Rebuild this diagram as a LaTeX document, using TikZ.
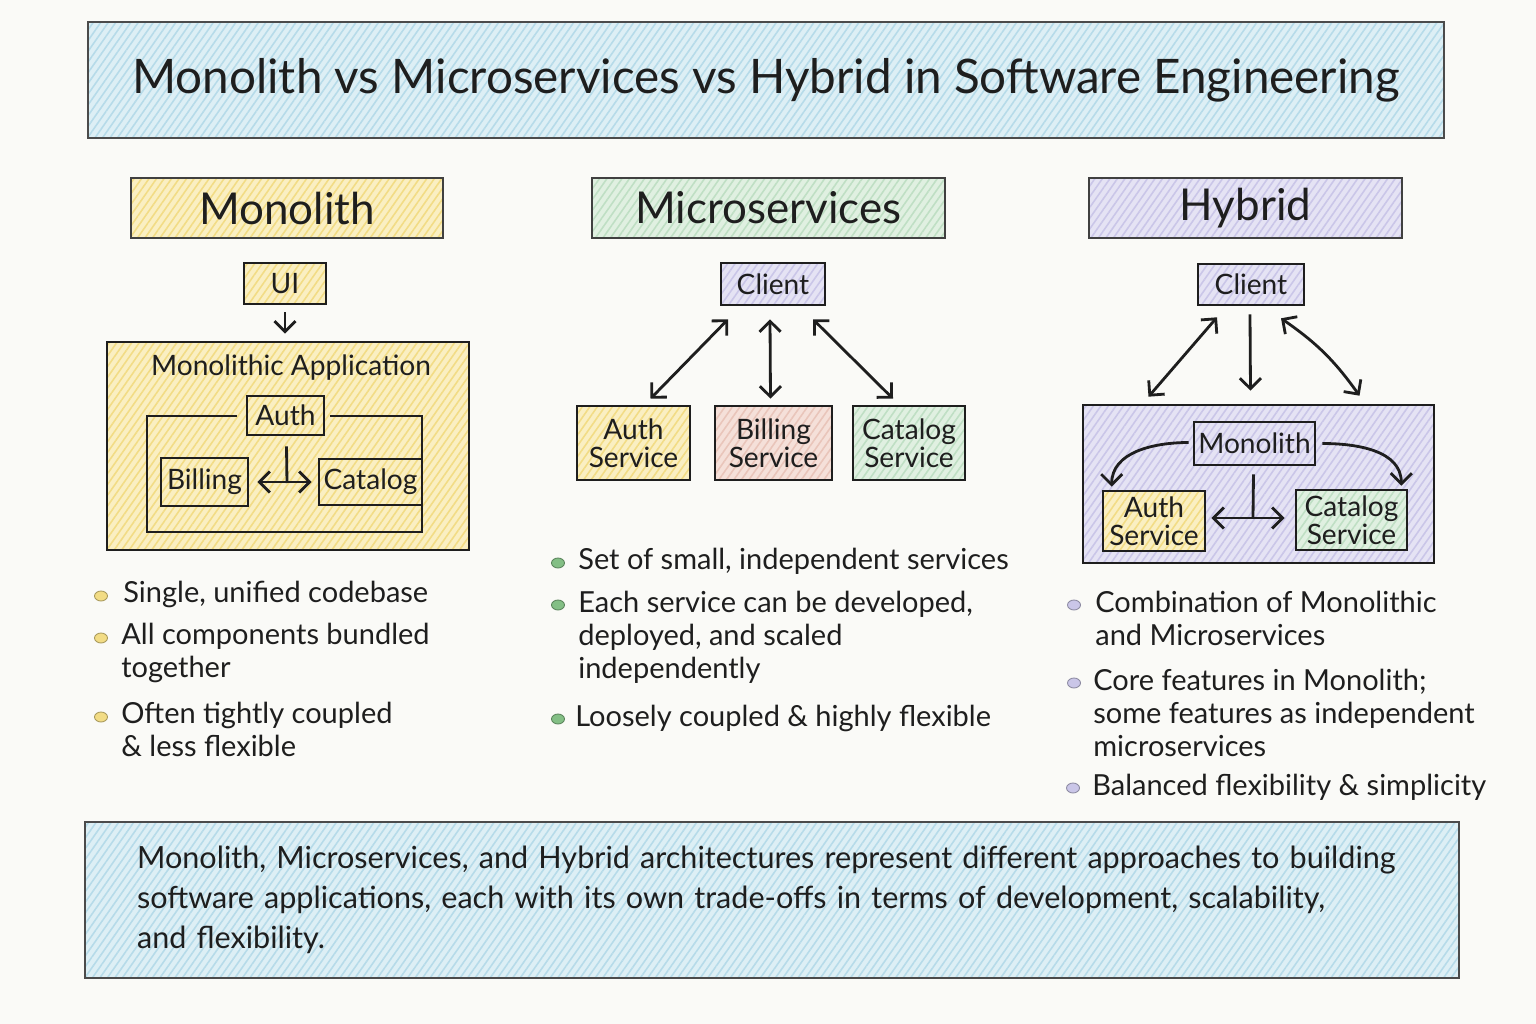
\documentclass[tikz,border=0pt]{standalone}
\usepackage{fontspec}
\setmainfont{Lato}
\usepackage{tikz}
\usetikzlibrary{arrows.meta,positioning,calc,patterns.meta,shapes.geometric}
\definecolor{paper}{HTML}{FAFAF7}
\definecolor{ink}{HTML}{1E1E1E}
\definecolor{yelBg}{HTML}{FAEFC2}
\definecolor{yelLn}{HTML}{F2DC85}
\definecolor{grnBg}{HTML}{E0F0E1}
\definecolor{grnLn}{HTML}{BFDFC4}
\definecolor{purBg}{HTML}{E5E3F4}
\definecolor{purLn}{HTML}{CAC6E8}
\definecolor{pnkBg}{HTML}{F5E0D9}
\definecolor{pnkLn}{HTML}{E9C5BA}
\definecolor{bluBg}{HTML}{DDEFF5}
\definecolor{bluLn}{HTML}{B6DBE9}
\newcommand{\fsz}[2]{\fontsize{#1}{#2}\selectfont}

\begin{document}
\begin{tikzpicture}[x=0.02cm,y=0.02cm,
  hatch/.style 2 args={preaction={fill=#1},
               pattern={Lines[angle=55,distance=3.5pt,line width=0.9pt]},
               pattern color=#2},
  box/.style={draw=ink,line width=1.5pt,align=center,inner sep=2pt,
              text=ink,font=\fsz{16}{16}},
  hdr/.style={draw=ink!85,line width=1.3pt,minimum height=1.2cm,
              text=ink,font=\fsz{25}{28}},
  item/.style={anchor=north west,align=left,inner sep=0pt,text=ink,
               font=\fsz{16.5}{18.7}},
  dot/.style={ellipse,inner sep=0pt,minimum width=0.26cm,minimum height=0.2cm,
              fill=#1,draw=#1!70!black,line width=0.5pt},
  arr/.style={-{Straight Barb[length=6pt,width=12pt]},line width=1.6pt,ink},
  dbl/.style={{Straight Barb[length=6pt,width=12pt]}-{Straight Barb[length=6pt,width=12pt]},
              line width=1.6pt,ink}]
\fill[paper] (0,0) rectangle (1536,-1024);
\useasboundingbox (0,0) rectangle (1536,-1024);
%% ── Title ────────────────────────────────────────────────────────────────
\node[hatch={bluBg}{bluLn},draw=ink!80,line width=1.3pt,text=ink,
      minimum width=27.12cm,minimum height=2.32cm,font=\fsz{27.1}{30}]
  (title) at (766,-80)
  {Monolith vs Microservices vs Hybrid in Software Engineering};
%% ── Column headers ───────────────────────────────────────────────────────
\node[hdr,hatch={yelBg}{yelLn},minimum width=6.24cm](hmono) at (287,-208) {Monolith};
\node[hdr,hatch={grnBg}{grnLn},minimum width=7.06cm](hmicro) at (768.5,-208) {Microservices};
\node[hdr,hatch={purBg}{purLn},minimum width=6.26cm](hhyb) at (1245.5,-208) {Hybrid};
%% ── Monolith ─────────────────────────────────────────────────────────────
\node[box,hatch={yelBg}{yelLn},minimum width=1.64cm,minimum height=0.82cm](ui) at (285,-283.5) {UI};
\node[box,hatch={yelBg}{yelLn},minimum width=7.24cm,minimum height=4.16cm](app) at (288,-446) {};
\node[text=ink,font=\fsz{16}{18}](applbl) at (291,-368) {Monolithic Application};
\draw[line width=1.5pt,ink] (237,-416) -- (147,-416) -- (147,-532) -- (422,-532) -- (422,-416) -- (330,-416);
\node[box,minimum width=1.54cm,minimum height=0.78cm](mauth) at (285.5,-415.5) {Auth};
\node[box,minimum width=1.74cm,minimum height=0.96cm](mbill) at (204.5,-482) {Billing};
\node[box,minimum width=2.06cm,minimum height=0.92cm](mcat) at (370.5,-482) {Catalog};
\coordinate (mj) at (287,-483);
\draw[arr] (ui.south) ++(0,-7) -- ($(app.north)+(-3,7)$);
\draw[line width=1.6pt,ink] ($(mauth.south)+(1,-10)$) -- (mj);
\draw[dbl] ($(mbill.east)+(8,0)$) -- ($(mcat.west)+(-6,0)$);
%% ── Microservices ────────────────────────────────────────────────────────
\node[box,hatch={purBg}{purLn},minimum width=2.08cm,minimum height=0.84cm](mcl) at (773,-284) {Client};
\node[box,hatch={yelBg}{yelLn},minimum width=2.26cm,minimum height=1.48cm](sau) at (633.5,-443) {Auth\\Service};
\node[box,hatch={pnkBg}{pnkLn},minimum width=2.34cm,minimum height=1.48cm](sbi) at (773.5,-443) {Billing\\Service};
\node[box,hatch={grnBg}{grnLn},minimum width=2.24cm,minimum height=1.48cm](sca) at (909,-443) {Catalog\\Service};
\draw[dbl] ($(mcl.south)+(-45,-13)$) -- ($(sau.north)+(17,6)$);
\draw[dbl] ($(mcl.south)+(-3,-13)$) -- ($(sbi.north)+(-3,6)$);
\draw[dbl] ($(mcl.south)+(40,-13)$) -- ($(sca.north)+(-16,6)$);
%% ── Hybrid ───────────────────────────────────────────────────────────────
\node[box,hatch={purBg}{purLn},minimum width=2.12cm,minimum height=0.82cm](hcl) at (1251,-284.5) {Client};
\node[box,hatch={purBg}{purLn},minimum width=7.02cm,minimum height=3.16cm](hyb) at (1258.5,-484) {};
\node[box,minimum width=2.42cm,minimum height=0.86cm](hmo) at (1254.5,-443.5) {Monolith};
\node[box,hatch={yelBg}{yelLn},minimum width=2.04cm,minimum height=1.2cm](hau) at (1154,-521) {Auth\\Service};
\node[box,hatch={grnBg}{grnLn},minimum width=2.22cm,minimum height=1.2cm](hca) at (1351.5,-520) {Catalog\\Service};
\coordinate (hj) at (1253,-518);
\draw[dbl] ($(hcl.south)+(-34,-11)$) -- ($(hyb.north)+(-110,7)$);
\draw[arr] ($(hcl.south)+(-1,-8)$) -- ($(hyb.north)+(-8,13)$);
\draw[dbl] ($(hcl.south)+(30,-12)$) to[bend left=10] ($(hyb.north)+(101,8)$);
\draw[arr] ($(hmo.west)+(-4,1)$) to[out=180,in=90] ($(hau.north west)+(10,3)$);
\draw[arr] ($(hmo.east)+(6,0)$) to[out=0,in=90] ($(hca.north east)+(-7,3)$);
\draw[line width=1.6pt,ink] ($(hmo.south)+(-1,-8)$) -- (hj);
\draw[dbl] ($(hau.east)+(5,3)$) -- ($(hca.west)+(-10,2)$);
%% ── Bullet lists ─────────────────────────────────────────────────────────
\node[dot=yelLn] (md1) at (101,-596) {};
\node[dot=yelLn] (md2) at (101,-638) {};
\node[dot=yelLn] (md3) at (101,-717) {};
\node[item] (mi1) at (123,-581) {Single, unified codebase};
\node[item] (mi2) at (121,-623) {All components bundled\\together};
\node[item] (mi3) at (121,-702) {Often tightly coupled\\\& less flexible};
\node[dot=grnLn!70!green!60!gray] (sd1) at (558,-563) {};
\node[dot=grnLn!70!green!60!gray] (sd2) at (558,-605) {};
\node[dot=grnLn!70!green!60!gray] (sd3) at (558,-719) {};
\node[item] (si1) at (578,-548) {Set of small, independent services};
\node[item] (si2) at (578,-591) {Each service can be developed,\\deployed, and scaled\\independently};
\node[item] (si3) at (575,-705) {Loosely coupled \& highly flexible};
\node[dot=purLn] (hd1) at (1074,-605) {};
\node[dot=purLn] (hd2) at (1074,-683) {};
\node[dot=purLn] (hd3) at (1073,-788) {};
\node[item] (hi1) at (1095,-591) {Combination of Monolithic\\and Microservices};
\node[item] (hi2) at (1093,-669) {Core features in Monolith;\\some features as independent\\microservices};
\node[item] (hi3) at (1092,-774) {Balanced flexibility \& simplicity};
%% ── Summary ──────────────────────────────────────────────────────────────
\node[hatch={bluBg}{bluLn},draw=ink!80,line width=1.3pt,text=ink,
      minimum width=27.48cm,minimum height=3.12cm,
      text width=25.4cm,align=left,font=\fsz{17.4}{22.7}]
  (summary) at (772,-900)
  {Monolith, Microservices, and Hybrid architectures represent different approaches to building\\
   software applications, each with its own trade-offs in terms of development, scalability,\\
   and flexibility.};
\end{tikzpicture}
\end{document}
